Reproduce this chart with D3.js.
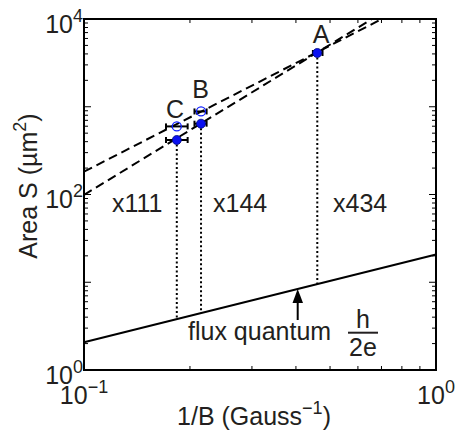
<!DOCTYPE html>
<html>
<head>
<meta charset="utf-8">
<script src="https://cdn.jsdelivr.net/npm/d3@7"></script>
<style>
  body { margin: 0; background: #fff; }
  text { font-family: "Liberation Sans", Arial, Helvetica, sans-serif; fill: #231f20; }
</style>
</head>
<body>
<svg></svg>
<script>
// sample names and measured values (1/B in Gauss^-1, area in um^2)
var names = ['A', 'B', 'C'];
var invB = [0.46, 0.215, 0.1835];
var areaFilled = [4100, 641, 418];
var areaOpen = [null, 884, 597];
var errLo = [0.447, 0.206, 0.171];
var errHi = [0.476, 0.223, 0.197];
var fluxAtPoint = [9.52, 4.45, 3.80];
var multiples = ['x434', 'x144', 'x111'];

// lines: [1/B, S]
var fitUpper = [[0.1, 182], [0.702, 10000]];
var fitLower = [[0.1, 99], [0.658, 10000]];
var fluxLine = [[0.1, 2.07], [1, 20.7]];

var xTickLabels = [[0.1, '10', '\u22121'], [1, '10', '0']];
var yTickLabels = [[1, '10', '0'], [100, '10', '2'], [10000, '10', '4']];

var width = 455;
var height = 435;
var padLeft = 84, padRight = 436, padTop = 19, padBottom = 370;

var xScale = d3.scaleLog().domain([0.1, 1]).range([padLeft, padRight]);
var yScale = d3.scaleLog().domain([1, 10000]).range([padBottom, padTop]);

var svg = d3.select('svg')
    .attr('width', width)
    .attr('height', height);

svg.append('clipPath').attr('id', 'plot')
  .append('rect')
    .attr('x', padLeft).attr('y', padTop)
    .attr('width', padRight - padLeft).attr('height', padBottom - padTop);

var line = d3.line()
    .x(d => xScale(d[0]))
    .y(d => yScale(d[1]));

// dashed fits
[fitUpper, fitLower].forEach(function(f) {
  svg.append('path')
      .attr('d', line(f))
      .attr('clip-path', 'url(#plot)')
      .attr('fill', 'none')
      .attr('stroke', '#000')
      .attr('stroke-width', 2)
      .attr('stroke-dasharray', '9,5');
});

// flux quantum line
svg.append('path')
    .attr('d', line(fluxLine))
    .attr('fill', 'none')
    .attr('stroke', '#000')
    .attr('stroke-width', 2);

// dotted drops
svg.selectAll('.drop')
  .data(names)
  .enter()
  .append('line')
    .attr('x1', (d, i) => xScale(invB[i]))
    .attr('x2', (d, i) => xScale(invB[i]))
    .attr('y1', (d, i) => yScale(areaFilled[i]))
    .attr('y2', (d, i) => yScale(fluxAtPoint[i]))
    .attr('stroke', '#000')
    .attr('stroke-width', 2)
    .attr('stroke-dasharray', '2,2.5');

// error bars for filled and open points
function errorBar(i, s) {
  var y = yScale(s);
  var x0 = xScale(errLo[i]), x1 = xScale(errHi[i]);
  svg.append('line')
      .attr('x1', x0).attr('x2', x1).attr('y1', y).attr('y2', y)
      .attr('stroke', '#000').attr('stroke-width', 2);
  [x0, x1].forEach(function(x) {
    svg.append('line')
        .attr('x1', x).attr('x2', x).attr('y1', y - 3).attr('y2', y + 3)
        .attr('stroke', '#000').attr('stroke-width', 2);
  });
}
names.forEach(function(n, i) {
  errorBar(i, areaFilled[i]);
  if (areaOpen[i] != null) errorBar(i, areaOpen[i]);
});

svg.selectAll('.open')
  .data(names.filter((d, i) => areaOpen[i] != null))
  .enter()
  .append('circle')
    .attr('cx', d => xScale(invB[names.indexOf(d)]))
    .attr('cy', d => yScale(areaOpen[names.indexOf(d)]))
    .attr('r', 4.5)
    .attr('fill', 'none')
    .attr('stroke', '#1020ff')
    .attr('stroke-width', 1.3);

svg.selectAll('.filled')
  .data(names)
  .enter()
  .append('circle')
    .attr('cx', (d, i) => xScale(invB[i]))
    .attr('cy', (d, i) => yScale(areaFilled[i]))
    .attr('r', 4.5)
    .attr('fill', '#0a10f0')
    .attr('stroke', '#000a80')
    .attr('stroke-width', 0.8);

// frame and ticks on all four sides
svg.append('rect')
    .attr('x', padLeft).attr('y', padTop)
    .attr('width', padRight - padLeft).attr('height', padBottom - padTop)
    .attr('fill', 'none')
    .attr('stroke', '#000')
    .attr('stroke-width', 2);

var isMajor = v => Math.abs(Math.log10(v) - Math.round(Math.log10(v))) < 1e-6;

xScale.ticks().forEach(function(v) {
  var x = xScale(v), len = isMajor(v) ? 7 : 4;
  svg.append('line').attr('x1', x).attr('x2', x).attr('y1', padBottom).attr('y2', padBottom - len)
      .attr('stroke', '#000').attr('stroke-width', 1);
  svg.append('line').attr('x1', x).attr('x2', x).attr('y1', padTop).attr('y2', padTop + len)
      .attr('stroke', '#000').attr('stroke-width', 1);
});

yScale.ticks().forEach(function(v) {
  var y = yScale(v), len = isMajor(v) ? 7 : 4;
  svg.append('line').attr('x1', padLeft).attr('x2', padLeft + len).attr('y1', y).attr('y2', y)
      .attr('stroke', '#000').attr('stroke-width', 1);
  svg.append('line').attr('x1', padRight).attr('x2', padRight - len).attr('y1', y).attr('y2', y)
      .attr('stroke', '#000').attr('stroke-width', 1);
});

function powerLabel(t, base, exp) {
  t.append('tspan').text(base);
  t.append('tspan').attr('dy', -11).style('font-size', '18px').text(exp);
}

xTickLabels.forEach(function(d) {
  var t = svg.append('text')
      .attr('x', xScale(d[0]))
      .attr('y', 404)
      .style('font-size', '25px')
      .style('text-anchor', 'middle');
  powerLabel(t, d[1], d[2]);
});

yTickLabels.forEach(function(d) {
  var t = svg.append('text')
      .attr('x', padLeft - 1)
      .attr('y', yScale(d[0]) + 13.5)
      .style('font-size', '25px')
      .style('text-anchor', 'end');
  powerLabel(t, d[1], d[2]);
});

// axis titles
var xt = svg.append('text')
    .attr('x', 254)
    .attr('y', 425)
    .style('font-size', '25px')
    .style('text-anchor', 'middle');
xt.append('tspan').text('1/B (Gauss');
xt.append('tspan').attr('dy', -11).style('font-size', '18px').text('\u22121');
xt.append('tspan').attr('dy', 11).text(')');

var yt = svg.append('text')
    .attr('transform', 'translate(37,186) rotate(-90)')
    .style('font-size', '25px')
    .style('text-anchor', 'middle');
yt.append('tspan').text('Area S (\u00b5m');
yt.append('tspan').attr('dy', -11).style('font-size', '18px').text('2');
yt.append('tspan').attr('dy', 11).text(')');

// point letters
var letterPos = [[321, 43], [200.5, 98], [175, 118]];
names.forEach(function(n, i) {
  svg.append('text')
      .attr('x', letterPos[i][0])
      .attr('y', letterPos[i][1])
      .style('font-size', '25px')
      .style('text-anchor', 'middle')
      .text(n);
});

// multiples
var multPos = [[333, 212], [213, 212], [112, 212]];
multiples.forEach(function(m, i) {
  svg.append('text')
      .attr('x', multPos[i][0])
      .attr('y', multPos[i][1])
      .style('font-size', '25px')
      .text(m);
});

// flux quantum annotation
svg.append('line')
    .attr('x1', 297.7).attr('x2', 297.7)
    .attr('y1', 320).attr('y2', 300)
    .attr('stroke', '#000').attr('stroke-width', 2);
svg.append('path')
    .attr('d', 'M297.7,289 L292.5,303 L303,303 Z')
    .attr('fill', '#000');

svg.append('text')
    .attr('x', 188)
    .attr('y', 340)
    .style('font-size', '25px')
    .text('flux quantum');
svg.append('text')
    .attr('x', 363)
    .attr('y', 328)
    .style('font-size', '25px')
    .style('text-anchor', 'middle')
    .text('h');
svg.append('line')
    .attr('x1', 348).attr('x2', 378)
    .attr('y1', 332.7).attr('y2', 332.7)
    .attr('stroke', '#231f20').attr('stroke-width', 2);
svg.append('text')
    .attr('x', 363)
    .attr('y', 356)
    .style('font-size', '25px')
    .style('text-anchor', 'middle')
    .text('2e');
</script>
</body>
</html>
